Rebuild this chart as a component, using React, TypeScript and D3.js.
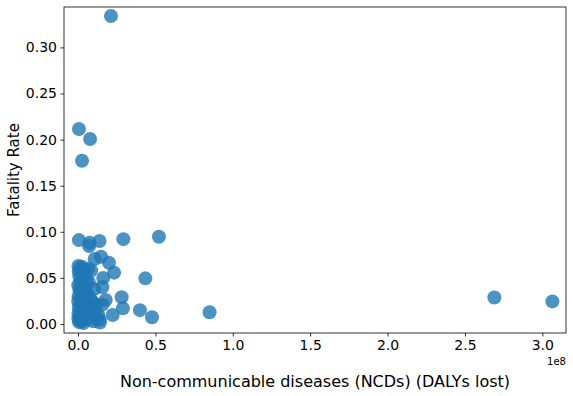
import React, { useEffect, useRef } from 'react';
import * as d3 from 'd3';

// NCD burden (DALYs lost) vs fatality rate
const ncdDalys: number[] = [
  21.3e6, 0.6e6, 7.8e6, 2.6e6, 0.6e6, 7.5e6, 7.2e6, 13.9e6, 29.3e6, 52.3e6,
  10.8e6, 14.9e6, 20.0e6, 23.3e6, 43.5e6, 16.3e6, 15.7e6, 28.2e6, 17.9e6, 29.0e6,
  40.0e6, 47.8e6, 22.4e6, 14.2e6, 85.0e6, 269.0e6, 306.5e6, 15.8e6,
  0.3e6, 1.2e6, 0.5e6, 2.5e6, 4.0e6, 6.5e6, 8.5e6, 0.8e6, 3.0e6, 5.5e6,
  1.5e6, 0.2e6, 2.0e6, 4.5e6, 7.0e6, 0.9e6, 3.5e6, 6.0e6, 10.5e6, 0.4e6,
  2.2e6, 5.0e6, 8.0e6, 0.1e6, 1.8e6, 3.8e6, 6.8e6, 9.5e6, 12.0e6, 0.6e6,
  2.8e6, 4.8e6, 7.5e6, 11.0e6, 0.3e6, 1.5e6, 3.2e6, 5.8e6, 9.0e6, 13.0e6,
  0.2e6, 1.0e6, 2.5e6, 4.2e6, 6.2e6, 8.2e6, 0.7e6, 3.5e6, 14.0e6, 10.0e6,
];

const fatalityRate: number[] = [
  0.334, 0.2115, 0.2006, 0.177, 0.091, 0.088, 0.0846, 0.090, 0.092, 0.0947,
  0.0705, 0.073, 0.0665, 0.0557, 0.0495, 0.050, 0.040, 0.029, 0.026, 0.017,
  0.015, 0.0073, 0.0098, 0.0015, 0.0128, 0.0288, 0.0245, 0.021,
  0.063, 0.060, 0.057, 0.062, 0.058, 0.060, 0.058, 0.052, 0.050, 0.048,
  0.045, 0.042, 0.040, 0.043, 0.045, 0.037, 0.035, 0.033, 0.038, 0.030,
  0.028, 0.030, 0.027, 0.025, 0.023, 0.022, 0.020, 0.024, 0.021, 0.018,
  0.017, 0.015, 0.016, 0.013, 0.012, 0.010, 0.009, 0.011, 0.008, 0.010,
  0.006, 0.004, 0.003, 0.005, 0.007, 0.006, 0.002, 0.001, 0.005, 0.003,
];

const xTicks = [0, 0.5e8, 1.0e8, 1.5e8, 2.0e8, 2.5e8, 3.0e8];
const yTicks = [0, 0.05, 0.1, 0.15, 0.2, 0.25, 0.3];

function ScatterChart() {
  const ref = useRef<SVGSVGElement>(null);

  useEffect(() => {
    const svg = d3.select(ref.current);
    svg.selectAll('*').remove();

    const margin = { top: 7, right: 7, bottom: 63, left: 64 };
    const width = 573;
    const height = 396;
    const font = 'DejaVu Sans, sans-serif';

    const x = d3.scaleLinear()
      .domain([-0.0905e8, 3.153e8])
      .range([margin.left, width - margin.right]);
    const y = d3.scaleLinear()
      .domain([-0.00976, 0.3438])
      .range([height - margin.bottom, margin.top]);

    const data = ncdDalys.map((v, i) => ({ x: v, y: fatalityRate[i] }));

    svg.append('g')
      .selectAll('circle')
      .data(data)
      .join('circle')
      .attr('cx', (d: any) => x(d.x))
      .attr('cy', (d: any) => y(d.y))
      .attr('r', 7)
      .attr('fill', '#1f77b4')
      .attr('fill-opacity', 0.8);

    const xAxis = svg.append('g')
      .attr('transform', `translate(0,${height - margin.bottom})`)
      .call(d3.axisBottom(x).tickValues(xTicks).tickSize(3.5).tickPadding(3.5)
        .tickFormat((d: any) => (d / 1e8).toFixed(1)));
    xAxis.select('.domain').remove();

    const yAxis = svg.append('g')
      .attr('transform', `translate(${margin.left},0)`)
      .call(d3.axisLeft(y).tickValues(yTicks).tickSize(3.5).tickPadding(3.5)
        .tickFormat((d: any) => d3.format('.2f')(d)));
    yAxis.select('.domain').remove();

    svg.selectAll('.tick text')
      .attr('font-family', font)
      .attr('font-size', 14)
      .attr('fill', '#000');
    svg.selectAll('.tick line').attr('stroke', '#000').attr('stroke-width', 0.8);

    svg.append('rect')
      .attr('x', margin.left)
      .attr('y', margin.top)
      .attr('width', width - margin.left - margin.right)
      .attr('height', height - margin.top - margin.bottom)
      .attr('fill', 'none')
      .attr('stroke', '#000')
      .attr('stroke-width', 0.8);

    svg.append('text')
      .attr('x', width - margin.right)
      .attr('y', 365)
      .attr('text-anchor', 'end')
      .attr('font-family', font)
      .attr('font-size', 10)
      .text('1e8');

    svg.append('text')
      .attr('x', (margin.left + width - margin.right) / 2)
      .attr('y', 387)
      .attr('text-anchor', 'middle')
      .attr('font-family', font)
      .attr('font-size', 16)
      .text('Non-communicable diseases (NCDs) (DALYs lost)');

    svg.append('text')
      .attr('transform', `translate(19,${(margin.top + height - margin.bottom) / 2}) rotate(-90)`)
      .attr('text-anchor', 'middle')
      .attr('font-family', font)
      .attr('font-size', 15)
      .text('Fatality Rate');
  }, []);

  return <svg ref={ref} width={573} height={396} style={{ display: 'block' }} />;
}

export default function App() {
  return (
    <div style={{ position: 'absolute', left: 0, top: 0 }}>
      <ScatterChart />
    </div>
  );
}
